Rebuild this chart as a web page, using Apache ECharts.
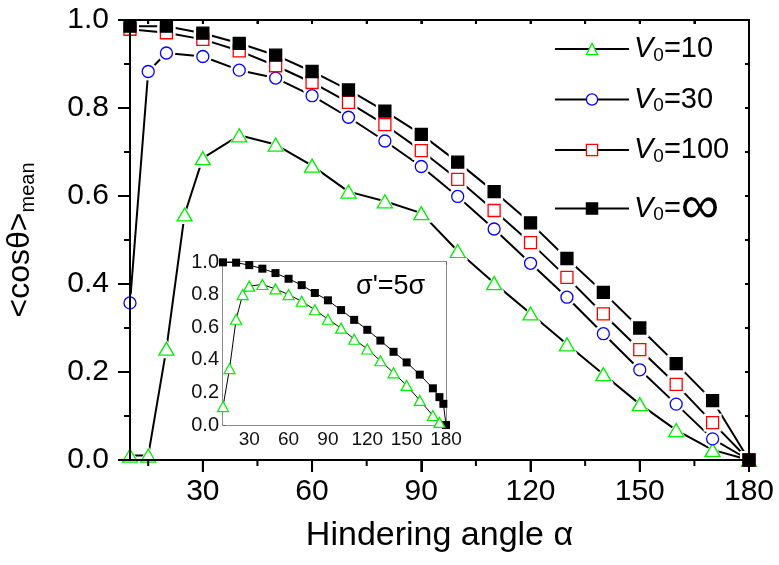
<!DOCTYPE html>
<html>
<head>
<meta charset="utf-8">
<script src="https://cdn.jsdelivr.net/npm/echarts@6/dist/echarts.min.js"></script>
<style>
  html, body { margin: 0; padding: 0; background: #fff; }
  #chart { width: 779px; height: 565px; background: #fff; }
</style>
</head>
<body>
<div id="chart"></div>
<script>
// Main panel: mean orientation <cosθ> versus hindering angle α
const anglesV10 = [10, 15, 20, 25, 30, 40, 50, 60, 70, 80, 90, 100, 110, 120, 130, 140, 150, 160, 170, 180];
const cosV10 = [0.01, 0.01, 0.253, 0.558, 0.686, 0.738, 0.717, 0.669, 0.610, 0.588, 0.561, 0.475, 0.402, 0.333, 0.263, 0.195, 0.127, 0.068, 0.023, 0.0];

const anglesV30 = [10, 15, 20, 30, 40, 50, 60, 70, 80, 90, 100, 110, 120, 130, 140, 150, 160, 170, 180];
const cosV30 = [0.357, 0.883, 0.925, 0.917, 0.886, 0.868, 0.828, 0.779, 0.725, 0.667, 0.599, 0.525, 0.447, 0.370, 0.287, 0.205, 0.127, 0.048, 0.0];

const anglesV100 = [10, 20, 30, 40, 50, 60, 70, 80, 90, 100, 110, 120, 130, 140, 150, 160, 170, 180];
const cosV100 = [0.979, 0.971, 0.956, 0.930, 0.896, 0.858, 0.813, 0.762, 0.703, 0.638, 0.567, 0.494, 0.415, 0.332, 0.251, 0.172, 0.085, 0.0];

const anglesVinf = [10, 20, 30, 40, 50, 60, 70, 80, 90, 100, 110, 120, 130, 140, 150, 160, 170, 180];
const cosVinf = [0.986, 0.986, 0.970, 0.947, 0.920, 0.883, 0.841, 0.793, 0.740, 0.677, 0.610, 0.539, 0.458, 0.381, 0.300, 0.219, 0.135, 0.0];

// Inset panel: σ' = 5σ
const insetAnglesV10 = [10, 15, 20, 25, 30, 40, 50, 60, 70, 80, 90, 100, 110, 120, 130, 140, 150, 160, 170, 175];
const insetCosV10 = [0.113, 0.346, 0.649, 0.80, 0.852, 0.862, 0.835, 0.80, 0.759, 0.707, 0.649, 0.594, 0.526, 0.466, 0.394, 0.320, 0.243, 0.151, 0.058, 0.016];
const insetAnglesVinf = [10, 20, 30, 40, 50, 60, 70, 80, 90, 100, 110, 120, 130, 140, 150, 160, 170, 175, 178, 180];
const insetCosVinf = [0.998, 0.996, 0.981, 0.959, 0.932, 0.897, 0.858, 0.810, 0.765, 0.705, 0.645, 0.584, 0.518, 0.449, 0.384, 0.309, 0.225, 0.171, 0.13, 0.0];

// Axis ticks
const xMajorTicks = [30, 60, 90, 120, 150, 180];
const xMinorTicks = [15, 45, 75, 105, 135, 165];
const xTopTicks = [15, 30, 45, 60, 75, 90, 105, 120, 135, 150, 165, 180];
const yMajorTicks = [0, 0.2, 0.4, 0.6, 0.8, 1.0];
const yMinorTicks = [0.1, 0.3, 0.5, 0.7, 0.9];

const FONT = 'Arial, "Liberation Sans", sans-serif';
const X_RANGE = [10, 180];
const Y_RANGE = [0, 1];
const MAIN_GRID = { left: 130, right: 30, top: 20, bottom: 105 };
const CHART_W = 779, CHART_H = 565;

const pairs = (xs, ys) => xs.map((x, i) => [x, ys[i]]);

const curves = [
  { name: 'V10', xs: anglesV10, ys: cosV10, symbol: 'triangle', size: [15, 13], halo: [21, 19], color: '#00ee00', fill: '#fff' },
  { name: 'V30', xs: anglesV30, ys: cosV30, symbol: 'circle', size: 12, halo: 18, color: '#0000ff', fill: '#fff' },
  { name: 'V100', xs: anglesV100, ys: cosV100, symbol: 'rect', size: 12, halo: 18, color: '#ff0000', fill: '#fff' },
  { name: 'Vinf', xs: anglesVinf, ys: cosVinf, symbol: 'rect', size: 12, halo: 18, color: '#000', fill: '#000' }
];

const series = [];
// connecting lines (also carry the legend entries)
curves.forEach(c => {
  series.push({
    name: c.name, type: 'line', xAxisIndex: 0, yAxisIndex: 0, z: 2, silent: true,
    data: pairs(c.xs, c.ys), symbol: c.symbol, showSymbol: false,
    lineStyle: { color: '#000', width: 2 },
    itemStyle: { color: c.fill, borderColor: c.color, borderWidth: 1.3 }
  });
});
// white gaps around markers
curves.forEach(c => {
  series.push({
    type: 'scatter', xAxisIndex: 0, yAxisIndex: 0, z: 3, silent: true,
    data: pairs(c.xs, c.ys), symbol: c.symbol, symbolSize: c.halo,
    itemStyle: { color: '#fff', opacity: 1 }
  });
});
// markers
curves.forEach(c => {
  series.push({
    type: 'scatter', xAxisIndex: 0, yAxisIndex: 0, z: 4, silent: true,
    data: pairs(c.xs, c.ys), symbol: c.symbol, symbolSize: c.size,
    itemStyle: { color: c.fill, borderColor: c.color, borderWidth: 1.3, opacity: 1 }
  });
});
// inset curves
series.push({
  type: 'line', xAxisIndex: 2, yAxisIndex: 2, z: 6,
  data: pairs(insetAnglesVinf, insetCosVinf), symbol: 'rect', symbolSize: 8, showAllSymbol: true,
  lineStyle: { color: '#000', width: 1 },
  itemStyle: { color: '#000', borderColor: '#000', borderWidth: 0 }
});
series.push({
  type: 'line', xAxisIndex: 2, yAxisIndex: 2, z: 6,
  data: pairs(insetAnglesV10, insetCosV10), symbol: 'triangle', symbolSize: [11, 10], showAllSymbol: true,
  lineStyle: { color: '#000', width: 1 },
  itemStyle: { color: '#fff', borderColor: '#00ee00', borderWidth: 1.2 }
});

const legendText = {
  V10: '{v|V}{s|0}{t|=10}',
  V30: '{v|V}{s|0}{t|=30}',
  V100: '{v|V}{s|0}{t|=100}',
  Vinf: '{v|V}{s|0}{t|=}{inf|∞}'
};

const mainLine = () => ({ show: true, onZero: false, lineStyle: { color: '#000', width: 2 } });
const mainTick = (len, inside) => ({ show: true, inside: !!inside, length: len, lineStyle: { color: '#000', width: 2 } });
const insetLine = () => ({ show: true, onZero: false, lineStyle: { color: '#666', width: 1.5 } });

// x axes: 0 main bottom, 1 main top, 2 inset bottom, 3 inset top
const xAxes = [
  {
    gridIndex: 0, type: 'value', position: 'bottom', min: X_RANGE[0], max: X_RANGE[1],
    splitLine: { show: false }, axisLine: mainLine(),
    axisTick: Object.assign(mainTick(12), { customValues: xMajorTicks }),
    axisLabel: { show: true, customValues: xMajorTicks, fontSize: 30, color: '#000', margin: 17, fontFamily: FONT },
    name: 'Hindering angle α', nameLocation: 'middle', nameGap: 59,
    nameTextStyle: { fontSize: 34, color: '#000', fontFamily: FONT }
  },
  {
    gridIndex: 0, type: 'value', position: 'top', min: X_RANGE[0], max: X_RANGE[1],
    splitLine: { show: false }, axisLine: mainLine(),
    axisTick: Object.assign(mainTick(4, true), { customValues: xTopTicks }),
    axisLabel: { show: false }
  },
  {
    gridIndex: 1, type: 'value', position: 'bottom', min: X_RANGE[0], max: X_RANGE[1],
    splitLine: { show: false }, axisLine: insetLine(),
    axisTick: { show: true, inside: true, customValues: xTopTicks, length: 3, lineStyle: { color: '#666', width: 1 } },
    axisLabel: { show: true, customValues: xMajorTicks, fontSize: 19, color: '#111', margin: 5, fontFamily: FONT }
  },
  {
    gridIndex: 1, type: 'value', position: 'top', min: X_RANGE[0], max: X_RANGE[1],
    splitLine: { show: false }, axisLine: insetLine(),
    axisTick: { show: true, inside: true, customValues: xTopTicks, length: 3, lineStyle: { color: '#666', width: 1 } },
    axisLabel: { show: false }
  }
];

const yAxes = [
  {
    gridIndex: 0, type: 'value', position: 'left', min: Y_RANGE[0], max: Y_RANGE[1], interval: 0.2,
    splitLine: { show: false }, axisLine: mainLine(),
    axisTick: mainTick(12),
    minorTick: { show: true, splitNumber: 2, length: 6, lineStyle: { color: '#000', width: 2 } },
    axisLabel: { show: true, fontSize: 30, color: '#000', margin: 21, fontFamily: FONT, formatter: v => v.toFixed(1) },
    name: '{a|<cosθ>}{s|mean}', nameLocation: 'middle', nameRotate: 90, nameGap: 92,
    nameTextStyle: {
      rich: {
        a: { fontSize: 32, color: '#000', fontFamily: FONT, lineHeight: 36 },
        s: { fontSize: 20, color: '#000', fontFamily: FONT, verticalAlign: 'bottom', lineHeight: 36, padding: [20, 0, 0, 0] }
      }
    }
  },
  {
    gridIndex: 0, type: 'value', position: 'right', min: Y_RANGE[0], max: Y_RANGE[1], interval: 0.1,
    splitLine: { show: false }, axisLine: mainLine(),
    axisTick: mainTick(4, true),
    axisLabel: { show: false }
  },
  {
    gridIndex: 1, type: 'value', position: 'left', min: Y_RANGE[0], max: Y_RANGE[1], interval: 0.2,
    splitLine: { show: false }, axisLine: insetLine(),
    axisTick: { show: true, inside: true, length: 3, lineStyle: { color: '#666', width: 1 } },
    minorTick: { show: true, splitNumber: 2, length: 2, lineStyle: { color: '#666', width: 1 } },
    axisLabel: { show: true, fontSize: 20, color: '#111', margin: 4, fontFamily: FONT, formatter: v => v.toFixed(1) }
  },
  {
    gridIndex: 1, type: 'value', position: 'right', min: Y_RANGE[0], max: Y_RANGE[1], interval: 0.1,
    splitLine: { show: false }, axisLine: insetLine(),
    axisTick: { show: true, inside: true, length: 3, lineStyle: { color: '#666', width: 1 } },
    axisLabel: { show: false }
  }
];

const labelGraphic = {
  id: 'sigma-label', type: 'text', left: 356, top: 273, z: 10,
  style: { text: "σ'=5σ", font: '27px ' + FONT, fill: '#000' }
};

const option = {
  animation: false,
  textStyle: { fontFamily: FONT },
  grid: [
    Object.assign({ outerBoundsMode: 'none', containLabel: false }, MAIN_GRID),
    { left: 223, right: 333, top: 262, bottom: 140, z: 5, backgroundColor: '#fff', show: true, borderWidth: 0,
      outerBoundsMode: 'none', containLabel: false }
  ],
  legend: {
    orient: 'vertical', left: 549, top: 25,
    itemWidth: 74, itemHeight: 14, itemGap: 15.5,
    data: curves.map(c => ({
      name: c.name,
      itemStyle: { color: c.fill, borderColor: c.color, borderWidth: 1.3 },
      lineStyle: { color: '#000', width: 2, opacity: 1 }
    })),
    selectedMode: false,
    formatter: n => legendText[n],
    textStyle: {
      fontFamily: FONT, color: '#000',
      rich: {
        v: { fontSize: 29, fontStyle: 'italic', fontFamily: FONT, color: '#000', lineHeight: 32 },
        s: { fontSize: 19, fontFamily: FONT, color: '#000', verticalAlign: 'bottom', lineHeight: 32, padding: [16, 0, 0, 0] },
        t: { fontSize: 29, fontFamily: FONT, color: '#000', lineHeight: 32 },
        inf: { fontSize: 54, fontFamily: FONT, color: '#000', lineHeight: 24 }
      }
    }
  },
  xAxis: xAxes,
  yAxis: yAxes,
  graphic: [labelGraphic],
  series: series
};

const chart = echarts.init(document.getElementById('chart'), null, { renderer: 'canvas' });
chart.setOption(option);

// Pixel position of a main-panel value: the grid's own conversion when it
// answers, otherwise the same linear mapping from the grid rectangle.
function mainPixel(x, y) {
  try {
    const p = chart.convertToPixel({ gridIndex: 0 }, [x, y]);
    if (p && isFinite(p[0]) && isFinite(p[1])) return p;
  } catch (e) { /* fall through */ }
  const left = MAIN_GRID.left, right = CHART_W - MAIN_GRID.right;
  const top = MAIN_GRID.top, bottom = CHART_H - MAIN_GRID.bottom;
  return [
    left + (x - X_RANGE[0]) / (X_RANGE[1] - X_RANGE[0]) * (right - left),
    bottom - (y - Y_RANGE[0]) / (Y_RANGE[1] - Y_RANGE[0]) * (bottom - top)
  ];
}

// Main frame and tick marks
function frameGraphics() {
  const [x0, y0] = mainPixel(X_RANGE[0], Y_RANGE[0]);
  const [x1, y1] = mainPixel(X_RANGE[1], Y_RANGE[1]);
  const stroke = { stroke: '#000', lineWidth: 2 };
  const els = [{
    id: 'frame', type: 'rect', silent: true, z: 20,
    shape: { x: x0, y: y1, width: x1 - x0, height: y0 - y1 },
    style: Object.assign({ fill: null }, stroke)
  }];
  const seg = (id, xa, ya, xb, yb) => els.push({
    id: id, type: 'line', silent: true, z: 20,
    shape: { x1: xa, y1: ya, x2: xb, y2: yb }, style: Object.assign({}, stroke)
  });
  xMajorTicks.forEach(v => { const x = mainPixel(v, 0)[0]; seg('xb' + v, x, y0, x, y0 + 12); });
  xMinorTicks.forEach(v => { const x = mainPixel(v, 0)[0]; seg('xm' + v, x, y0, x, y0 + 6); });
  xTopTicks.forEach(v => { const x = mainPixel(v, 1)[0]; seg('xt' + v, x, y1, x, y1 + 4); });
  yMajorTicks.forEach((v, i) => {
    const y = mainPixel(X_RANGE[0], v)[1];
    seg('yl' + i, x0 - 12, y, x0, y);
    seg('yr' + i, x1 - 4, y, x1, y);
  });
  yMinorTicks.forEach((v, i) => {
    const y = mainPixel(X_RANGE[0], v)[1];
    seg('ylm' + i, x0 - 6, y, x0, y);
    seg('yrm' + i, x1 - 4, y, x1, y);
  });
  return els;
}

try {
  chart.setOption({ graphic: [labelGraphic].concat(frameGraphics()) });
} catch (e) { /* frame is decorative */ }
</script>
</body>
</html>
